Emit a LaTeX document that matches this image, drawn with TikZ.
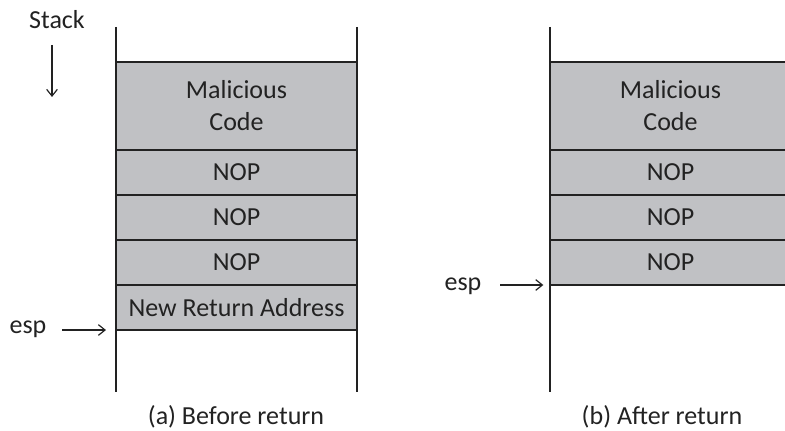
\documentclass[tikz,border=0pt]{standalone}
\usepackage{fontspec}
\setmainfont{Carlito}
\usetikzlibrary{positioning,arrows.meta}
\definecolor{cellgray}{RGB}{192,193,196}
\definecolor{inkgray}{RGB}{34,34,34}
\tikzset{
  cell/.style={draw=inkgray, line width=1.8pt, fill=cellgray, text=inkgray,
    outer sep=0pt, inner sep=0pt, minimum width=180.75pt, minimum height=33.75pt,
    align=center, font=\fontsize{19.5}{24}\selectfont},
  bigcell/.style={cell, minimum height=66pt},
  wall/.style={draw=inkgray, line width=1pt},
  pointer/.style={draw=inkgray, line width=0.9pt, -{Straight Barb[length=5pt,width=8pt]}},
  txt/.style={text=inkgray, inner sep=0pt, anchor=base, font=\fontsize{19.5}{24}\selectfont}
}
\begin{document}
\begin{tikzpicture}[x=0.75pt, y=-0.75pt]
      \useasboundingbox (0,0) rectangle (785,431);
      % stack walls
      \coordinate (alt) at (116,27);
      \coordinate (alb) at (116,392);
      \coordinate (art) at (357,27);
      \coordinate (arb) at (357,392);
      \coordinate (blt) at (550,27);
      \coordinate (blb) at (550,392);
      \draw[wall] (alt) -- (alb);
      \draw[wall] (art) -- (arb);
      \draw[wall] (blt) -- (blb);
      % (a) before return
      \node[bigcell] (a1) at (236.5,106) {Malicious\\Code};
      \node[cell, below=0pt of a1] (a2) {NOP};
      \node[cell, below=0pt of a2] (a3) {NOP};
      \node[cell, below=0pt of a3] (a4) {NOP};
      \node[cell, below=0pt of a4] (a5) {New Return Address};
      % (b) after return
      \node[bigcell] (b1) at (670.5,106) {Malicious\\Code};
      \node[cell, below=0pt of b1] (b2) {NOP};
      \node[cell, below=0pt of b2] (b3) {NOP};
      \node[cell, below=0pt of b3] (b4) {NOP};
      % labels
      \node[txt] (stack) at (57,29) {Stack};
      \node[txt] (espa) at (28,333) {esp};
      \node[txt] (espb) at (463,290) {esp};
      \node[txt] (capa) at (236,424) {(a) Before return};
      \node[txt] (capb) at (662,424) {(b) After return};
      % pointers
      \coordinate (sfrom) at (52,45);
      \coordinate (sto) at (52,97);
      \coordinate (eafrom) at (62,330);
      \coordinate (ebfrom) at (500,285);
      \begin{scope}[pointer]
        \draw (sfrom) to (sto);
        \draw[shorten >=7.5pt] (eafrom) to (a5.south west);
        \draw[shorten >=5pt] (ebfrom) to (b4.south west);
      \end{scope}
    \end{tikzpicture}
\end{document}
